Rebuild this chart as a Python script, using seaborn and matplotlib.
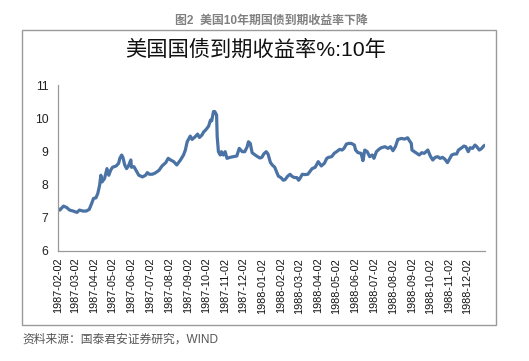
import pandas as pd
import matplotlib.pyplot as plt
import matplotlib.patches as patches
import seaborn as sns

# %% data
dates = [
    "1987-02-02", "1987-02-05", "1987-02-11", "1987-02-16", "1987-02-21", "1987-02-27",
    "1987-03-05", "1987-03-09", "1987-03-15", "1987-03-20", "1987-03-25", "1987-03-29",
    "1987-04-01", "1987-04-05", "1987-04-08", "1987-04-11", "1987-04-13", "1987-04-15",
    "1987-04-19", "1987-04-23", "1987-04-26", "1987-04-29", "1987-05-02", "1987-05-08",
    "1987-05-12", "1987-05-14", "1987-05-17", "1987-05-19", "1987-05-22", "1987-05-25",
    "1987-05-28", "1987-06-01", "1987-06-02", "1987-06-06", "1987-06-10", "1987-06-14",
    "1987-06-20", "1987-06-25", "1987-06-28", "1987-07-01", "1987-07-06", "1987-07-11",
    "1987-07-17", "1987-07-22", "1987-07-28", "1987-08-01", "1987-08-05", "1987-08-10",
    "1987-08-15", "1987-08-21", "1987-08-26", "1987-08-29", "1987-09-01", "1987-09-06",
    "1987-09-09", "1987-09-14", "1987-09-18", "1987-09-21", "1987-09-25", "1987-09-28",
    "1987-10-01", "1987-10-06", "1987-10-09", "1987-10-11", "1987-10-14", "1987-10-16",
    "1987-10-19", "1987-10-20", "1987-10-22", "1987-10-25", "1987-10-27", "1987-10-30",
    "1987-11-02", "1987-11-05", "1987-11-10", "1987-11-16", "1987-11-21", "1987-11-25",
    "1987-11-30", "1987-12-04", "1987-12-08", "1987-12-10", "1987-12-13", "1987-12-16",
    "1987-12-21", "1987-12-25", "1987-12-29",
    "1988-01-01", "1988-01-04", "1988-01-08", "1988-01-11", "1988-01-15", "1988-01-18",
    "1988-01-22", "1988-01-25", "1988-01-28", "1988-02-01", "1988-02-05", "1988-02-08",
    "1988-02-12", "1988-02-16", "1988-02-19", "1988-02-23", "1988-02-27", "1988-03-01",
    "1988-03-03", "1988-03-07", "1988-03-11", "1988-03-16", "1988-03-20", "1988-03-23",
    "1988-03-28", "1988-03-30", "1988-04-02", "1988-04-07", "1988-04-12", "1988-04-16",
    "1988-04-19", "1988-04-24", "1988-04-28", "1988-05-02", "1988-05-07", "1988-05-11",
    "1988-05-14", "1988-05-18", "1988-05-22", "1988-05-26", "1988-05-31", "1988-06-02",
    "1988-06-06", "1988-06-11", "1988-06-14", "1988-06-17", "1988-06-21", "1988-06-25",
    "1988-06-29", "1988-07-02", "1988-07-06", "1988-07-10", "1988-07-14", "1988-07-20",
    "1988-07-25", "1988-07-29", "1988-08-02", "1988-08-06", "1988-08-10", "1988-08-16",
    "1988-08-21", "1988-08-26", "1988-08-29", "1988-09-01", "1988-09-02", "1988-09-06",
    "1988-09-10", "1988-09-14", "1988-09-18", "1988-09-22", "1988-09-28", "1988-10-02",
    "1988-10-06", "1988-10-10", "1988-10-14", "1988-10-18", "1988-10-22", "1988-10-26",
    "1988-10-30", "1988-11-02", "1988-11-06", "1988-11-10", "1988-11-14", "1988-11-17",
    "1988-11-21", "1988-11-26", "1988-11-29", "1988-12-03", "1988-12-06", "1988-12-10",
    "1988-12-14", "1988-12-17", "1988-12-21", "1988-12-25", "1988-12-28", "1988-12-31",
]
yields = [
    7.28, 7.23, 7.35, 7.31, 7.23, 7.20,
    7.16, 7.23, 7.20, 7.20, 7.25, 7.43,
    7.58, 7.60, 7.73, 7.98, 8.28, 8.08,
    8.18, 8.48, 8.28, 8.43, 8.52, 8.56,
    8.64, 8.79, 8.89, 8.82, 8.59, 8.48,
    8.56, 8.74, 8.52, 8.54, 8.41, 8.28,
    8.23, 8.28, 8.36, 8.31, 8.31, 8.35,
    8.43, 8.56, 8.66, 8.79, 8.74, 8.69,
    8.59, 8.74, 8.89, 9.04, 9.29, 9.46,
    9.36, 9.44, 9.52, 9.42, 9.49, 9.59,
    9.64, 9.76, 9.94, 9.92, 10.20, 10.20,
    10.10, 9.44, 8.99, 8.89, 8.99, 8.89,
    8.99, 8.79, 8.82, 8.84, 8.86, 9.09,
    8.99, 8.99, 9.14, 9.29, 9.24, 8.96,
    8.89, 8.84, 8.80,
    8.82, 8.92, 8.99, 8.92, 8.66, 8.59,
    8.52, 8.38, 8.25, 8.21, 8.13, 8.15,
    8.25, 8.31, 8.25, 8.21, 8.21, 8.13,
    8.18, 8.31, 8.30, 8.31, 8.41, 8.48,
    8.52, 8.59, 8.69, 8.56, 8.64, 8.79,
    8.82, 8.84, 8.94, 8.99, 9.06, 9.04,
    9.09, 9.22, 9.24, 9.24, 9.19, 9.04,
    8.96, 8.94, 8.72, 9.04, 8.99, 8.84,
    8.89, 8.79, 8.99, 9.06, 9.11, 9.14,
    9.09, 9.14, 9.02, 9.14, 9.36, 9.39,
    9.37, 9.41, 9.32, 9.24, 9.04, 8.99,
    8.94, 8.89, 8.96, 8.94, 9.04, 8.86,
    8.74, 8.82, 8.84, 8.79, 8.82, 8.76,
    8.66, 8.76, 8.89, 8.92, 8.92, 9.04,
    9.09, 9.16, 9.14, 8.99, 9.11, 9.09,
    9.19, 9.14, 9.04, 9.09, 9.16, 9.19,
]
tick_dates = [
    "1987-02-02", "1987-03-02", "1987-04-02", "1987-05-02", "1987-06-02", "1987-07-02",
    "1987-08-02", "1987-09-02", "1987-10-02", "1987-11-02", "1987-12-02", "1988-01-02",
    "1988-02-02", "1988-03-02", "1988-04-02", "1988-05-02", "1988-06-02", "1988-07-02",
    "1988-08-02", "1988-09-02", "1988-10-02", "1988-11-02", "1988-12-02",
]
y_ticks = [6, 7, 8, 9, 10, 11]

caption = "图2  美国10年期国债到期收益率下降"
chart_title = "美国国债到期收益率%:10年"
source = "资料来源：国泰君安证券研究，WIND"

df = pd.DataFrame({"date": pd.to_datetime(dates), "yield": yields})

# %%
sns.set_style("white")
plt.rcParams["font.family"] = ["Liberation Sans", "Noto Sans CJK SC", "DejaVu Sans"]

fig = plt.figure(figsize=(5.29, 3.61), dpi=100)
ax = fig.add_axes([0.1096, 0.305, 0.808, 0.4595])

sns.lineplot(data=df, x="date", y="yield", ax=ax, color="#4A72A4", linewidth=2.3)

ax.set_xlim(pd.Timestamp("1987-02-02"), pd.Timestamp("1988-12-31"))
ax.set_ylim(6, 11)
ax.set_yticks(y_ticks)
ax.set_yticklabels([str(v) for v in y_ticks], fontsize=8.8, color="#222222")
ticks = pd.to_datetime(tick_dates)
ax.set_xticks(ticks)
ax.set_xticklabels(tick_dates, rotation=90, fontsize=7.8, color="#111111")
ax.set_xlabel("")
ax.set_ylabel("")

for side in ["top", "right"]:
    ax.spines[side].set_visible(False)
for side in ["left", "bottom"]:
    ax.spines[side].set_color("#999999")
    ax.spines[side].set_linewidth(0.9)
ax.tick_params(axis="both", direction="out", length=3, width=0.8, color="#999999", pad=2)
ax.tick_params(axis="y", pad=4)

# frame around the chart
fig.patches.append(patches.Rectangle((22 / 529, 1 - 325 / 361), 474 / 529, 295 / 361,
                                     transform=fig.transFigure, fill=False,
                                     edgecolor="#9a9a9a", linewidth=1.0))

fig.text(271 / 529, 1 - 21 / 361, caption, ha="center", va="center",
         fontsize=8.6, color="#808080", fontweight="bold")
fig.text(256 / 529, 1 - 50 / 361, chart_title, ha="center", va="center",
         fontsize=15.3, color="#111111", fontweight="medium")
fig.text(22 / 529, 1 - 340 / 361, source, ha="left", va="center",
         fontsize=8.5, color="#555555")

plt.savefig("out.png", dpi=100)
